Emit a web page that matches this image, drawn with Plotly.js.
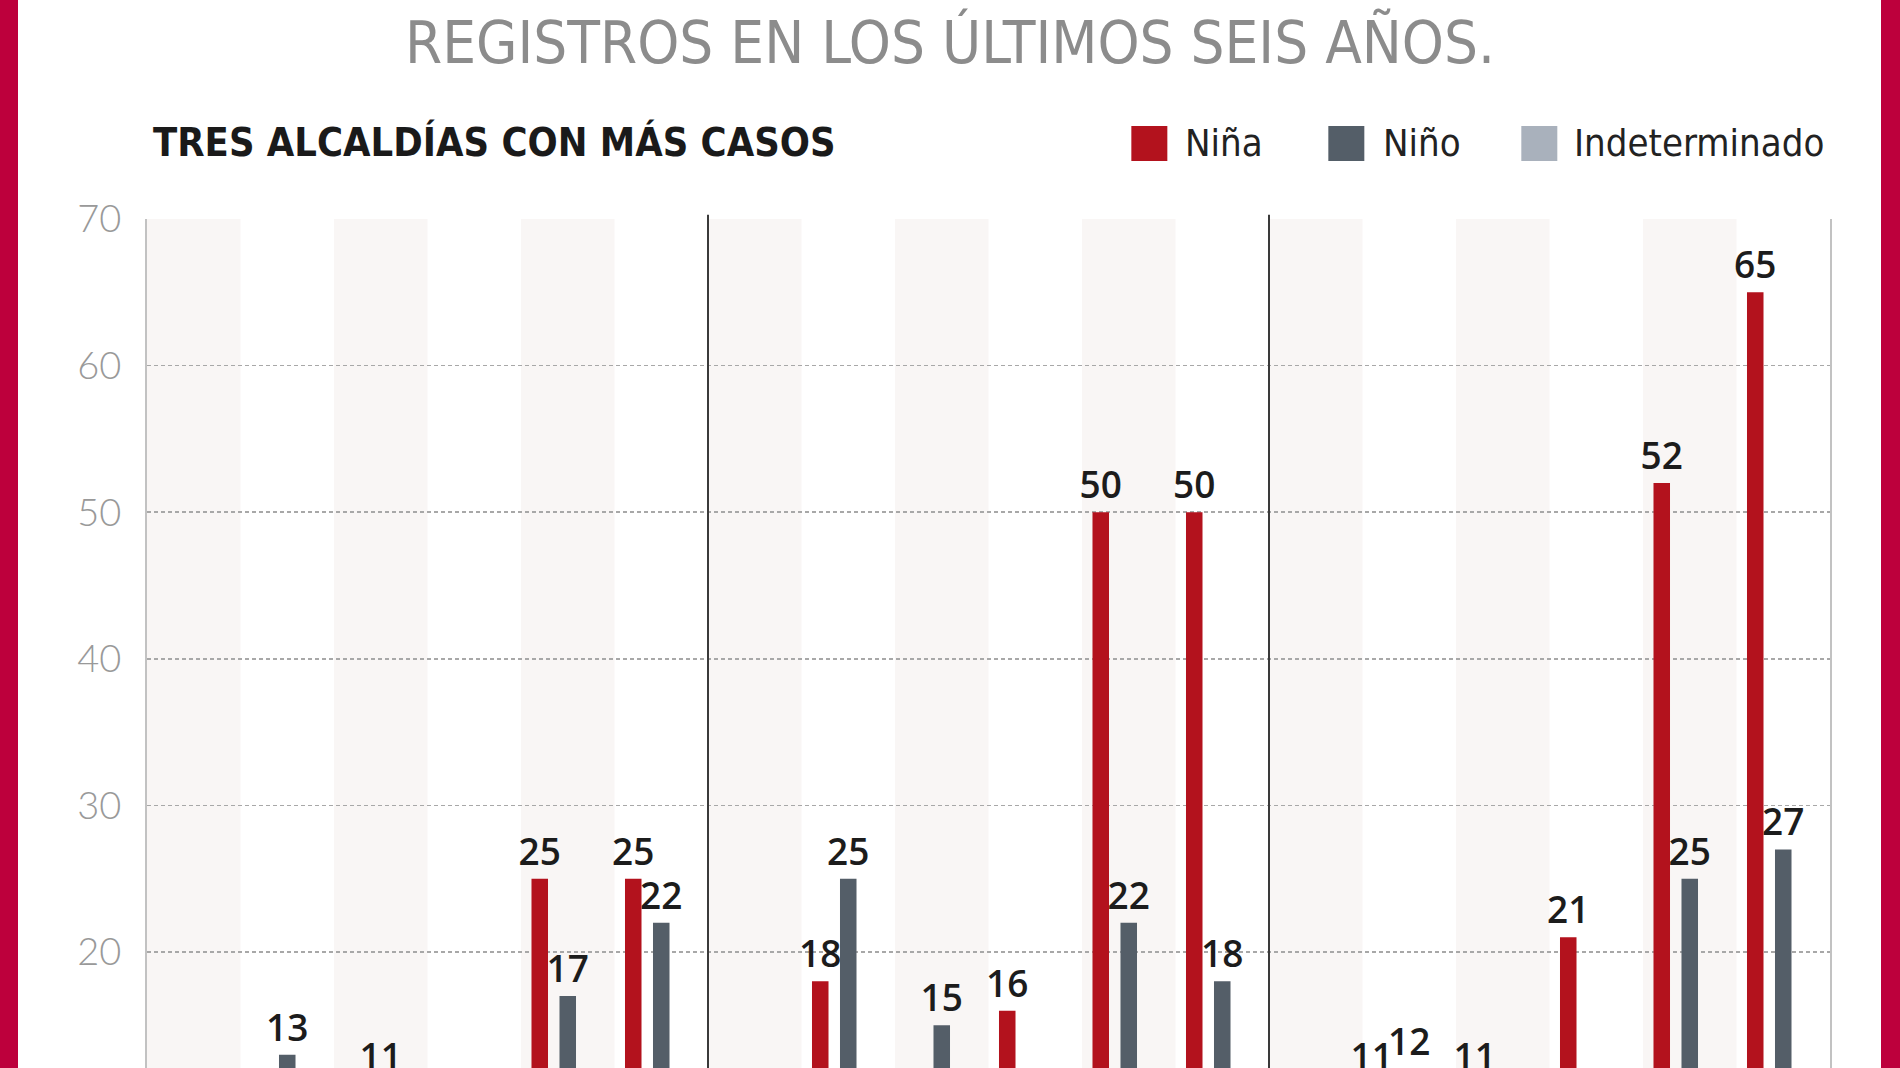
<!DOCTYPE html>
<html>
<head>
<meta charset="utf-8">
<script src="https://cdn.plot.ly/plotly-3.0.1.min.js"></script>
<style>
html,body{margin:0;padding:0;background:#ffffff;overflow:hidden;}
#chart{position:absolute;left:0;top:0;width:1900px;height:1068px;}
.frame{position:absolute;top:0;height:1068px;background:#bd003c;pointer-events:none;}
</style>
</head>
<body>
<div id="chart"></div>
<div class="frame" style="left:0;width:18px"></div>
<div class="frame" style="left:1881px;width:19px"></div>
<script>
// ---- data ----
const panels = ['A', 'B', 'C'];          // three alcaldías (names cropped out of the picture)
const years = ['1', '2', '3', '4', '5', '6']; // six years per alcaldía
const nina  = [8, 9, 7, 9, 25, 25,   9, 18, 8, 16, 50, 50,   7, 11, 11, 21, 52, 65];
const nino  = [7, 13, 11, 8, 17, 22,  8, 25, 15, 9, 22, 18,   6, 12, 9, 8, 25, 27];
const indet = [0, 1, 0, 1, 2, 1,     1, 0, 2, 1, 3, 2,       0, 1, 0, 1, 2, 3];
const seriesNames = ['Niña', 'Niño', 'Indeterminado'];
const seriesColors = ['#b3121d', '#545e68', '#a9b1bc'];
const yTicks = [20, 30, 40, 50, 60, 70];
const titleText = 'REGISTROS EN LOS ÚLTIMOS SEIS AÑOS.';
const subtitleText = 'TRES ALCALDÍAS CON MÁS CASOS';

// ---- build ----
const categories = [];
panels.forEach(p => years.forEach(y => categories.push(p + '-' + y)));
const seriesValues = [nina, nino, indet];

const W = 1900, H = 1068;
const M = {l: 146.6, r: 70.3, t: 219, b: 0};
const PW = W - M.l - M.r, PH = H - M.t - M.b;
const px = x => (x - M.l) / PW;
const py = y => (H - M.b - y) / PH;
const condensed = 'Liberation Sans Narrow, DejaVu Sans Condensed, Roboto, sans-serif';

// value labels; where a Niña label sits right beside a Niño label one unit higher,
// nudge it left a little (as the original does) with trailing no-break spaces
function labelsFor(k) {
  return seriesValues[k].map((v, i) => {
    if (k === 0 && nino[i] === v + 1) return String(v) + '\u00a0\u00a0';
    return String(v);
  });
}

const traces = seriesNames.map((name, k) => ({
  type: 'bar',
  name: name,
  x: categories,
  y: seriesValues[k],
  text: labelsFor(k),
  textposition: 'outside',
  constraintext: 'none',
  cliponaxis: true,
  textfont: {family: 'Open Sans, Noto Sans, sans-serif', size: 37, weight: 600, color: '#1c1c1c'},
  marker: {color: seriesColors[k], line: {width: 0}},
  hoverinfo: 'skip',
  showlegend: false
}));

const shapes = [];
categories.forEach((c, i) => {
  if (i % 2 === 0) {
    shapes.push({type: 'rect', xref: 'x', yref: 'paper', x0: i - 0.5, x1: i + 0.5, y0: 0, y1: 1,
      fillcolor: '#f9f6f5', line: {width: 0}, layer: 'below'});
  }
});
for (let p = 1; p < panels.length; p++) {
  const xb = p * years.length - 0.5;
  shapes.push({type: 'line', xref: 'x', yref: 'paper', x0: xb, x1: xb, y0: 0, y1: 1.005,
    line: {color: '#3a3a3a', width: 2}, layer: 'above'});
}

// custom legend (large square swatches)
const legendSwatchX = [1131, 1328, 1521];
const legendTextX = [1183, 1381, 1572];
const annotations = [{
  xref: 'paper', yref: 'paper', x: px(151), y: py(142), xanchor: 'left', yanchor: 'middle',
  text: subtitleText, showarrow: false,
  font: {family: condensed, size: 39.5, weight: 700, color: '#1a1a1a'}
}];
seriesNames.forEach((name, k) => {
  shapes.push({type: 'rect', xref: 'paper', yref: 'paper',
    x0: px(legendSwatchX[k]), x1: px(legendSwatchX[k] + 36), y0: py(161), y1: py(126),
    fillcolor: seriesColors[k], line: {width: 0}});
  annotations.push({xref: 'paper', yref: 'paper', x: px(legendTextX[k]), y: py(143),
    xanchor: 'left', yanchor: 'middle', text: name, showarrow: false,
    font: {family: condensed, size: 38, color: '#222222'}});
});

const layout = {
  width: W, height: H,
  margin: M,
  paper_bgcolor: '#ffffff',
  plot_bgcolor: '#ffffff',
  barmode: 'group',
  bargap: 0.1016,
  bargroupgap: 0.41,
  title: {
    text: titleText, xref: 'container', yref: 'container', x: 0.5, y: 1 - 42 / H,
    xanchor: 'center', yanchor: 'middle',
    font: {family: condensed, size: 59.5, color: '#8c8c8c'}
  },
  xaxis: {
    type: 'category', showticklabels: false, showgrid: false, zeroline: false, showline: false,
    ticks: '', range: [-0.5, categories.length - 0.5], fixedrange: true
  },
  yaxis: {
    range: [12.09, 70], tickvals: yTicks, ticktext: yTicks.map(String), ticks: '',
    showgrid: true, gridcolor: '#a8a8a8', griddash: '4px,3px', gridwidth: 1.5,
    showline: true, mirror: true, linecolor: '#c2c2c2', linewidth: 2,
    zeroline: false, automargin: false, ticklabelstandoff: 16,
    tickfont: {family: 'Lato, Open Sans, sans-serif', size: 38, weight: 300, color: '#999999'},
    fixedrange: true
  },
  shapes: shapes,
  annotations: annotations
};

Plotly.newPlot('chart', traces, layout, {staticPlot: true, displayModeBar: false});
</script>
</body>
</html>
